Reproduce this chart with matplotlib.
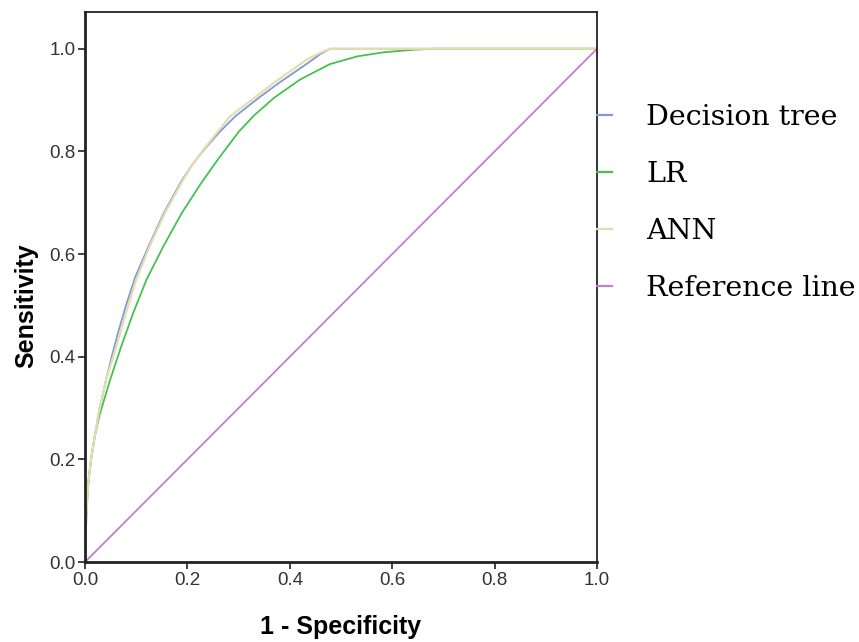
import matplotlib.pyplot as plt

# ROC points (1 - specificity, sensitivity)
tree_fpr = [0.0, 0.001, 0.0025, 0.0045, 0.007, 0.0117, 0.019, 0.0267, 0.041, 0.052, 0.064,
            0.08, 0.098, 0.124, 0.154, 0.187, 0.21, 0.234, 0.262, 0.293, 0.34, 0.381, 0.435,
            0.46, 0.479, 1.0]
tree_tpr = [0.0, 0.043, 0.088, 0.127, 0.16, 0.2, 0.245, 0.29, 0.355, 0.40, 0.445,
            0.50, 0.555, 0.615, 0.68, 0.74, 0.775, 0.805, 0.837, 0.868, 0.905, 0.935, 0.972,
            0.99, 1.0, 1.0]

lr_fpr = [0.0, 0.001, 0.0025, 0.0045, 0.007, 0.0117, 0.019, 0.028, 0.049, 0.07, 0.094,
          0.12, 0.153, 0.189, 0.228, 0.26, 0.3, 0.33, 0.37, 0.42, 0.478, 0.531, 0.582,
          0.64, 0.68, 1.0]
lr_tpr = [0.0, 0.043, 0.088, 0.127, 0.16, 0.2, 0.245, 0.285, 0.355, 0.418, 0.485,
          0.55, 0.615, 0.68, 0.74, 0.785, 0.838, 0.87, 0.905, 0.94, 0.97, 0.985, 0.993,
          0.998, 1.0, 1.0]

ann_fpr = [0.0, 0.001, 0.0025, 0.0045, 0.007, 0.0117, 0.019, 0.0267, 0.041, 0.055, 0.067,
           0.083, 0.1, 0.126, 0.156, 0.189, 0.208, 0.231, 0.283, 0.325, 0.368, 0.433, 0.459,
           0.479, 1.0]
ann_tpr = [0.0, 0.043, 0.088, 0.127, 0.16, 0.2, 0.245, 0.29, 0.355, 0.40, 0.44,
           0.495, 0.55, 0.615, 0.68, 0.74, 0.771, 0.803, 0.868, 0.90, 0.933, 0.979, 0.992,
           1.0, 1.0]

ref_x = [0.0, 1.0]
ref_y = [0.0, 1.0]

labels = ['Decision tree', 'LR', 'ANN', 'Reference line']
colors = ['#8098d8', '#45c152', '#e2deaf', '#c180cb']
ticks = [0.0, 0.2, 0.4, 0.6, 0.8, 1.0]
y_top = 1.072

fig = plt.figure(figsize=(8.59, 6.42), dpi=100)
ax = fig.add_axes([0.099, 0.1246, 0.596, 0.857])

ax.plot(tree_fpr, tree_tpr, color=colors[0], lw=1.3, label=labels[0])
ax.plot(lr_fpr, lr_tpr, color=colors[1], lw=1.3, label=labels[1])
ax.plot(ann_fpr, ann_tpr, color=colors[2], lw=1.6, label=labels[2])
ax.plot(ref_x, ref_y, color=colors[3], lw=1.3, label=labels[3])

ax.set_xlim(0, 1.0)
ax.set_ylim(0, y_top)
ax.set_xticks(ticks)
ax.set_yticks(ticks)
ax.set_xticklabels([f'{t:.1f}' for t in ticks], fontfamily='Liberation Sans', fontsize=13.5, color='#333333')
ax.set_yticklabels([f'{t:.1f}' for t in ticks], fontfamily='Liberation Sans', fontsize=13.5, color='#333333')
ax.tick_params(direction='out', length=5, width=1.2, color='#222222', pad=2)
for s in ax.spines.values():
    s.set_linewidth(1.3)
    s.set_color('#222222')
ax.spines['left'].set_linewidth(2)
ax.spines['bottom'].set_linewidth(2)

# axis titles sit at the middle of the 0..1 range, as in the original
ax.set_xlabel('1 - Specificity', fontfamily='Liberation Sans', fontweight='bold', fontsize=18, labelpad=19)
ax.set_ylabel('Sensitivity', fontfamily='Liberation Sans', fontweight='bold', fontsize=18, labelpad=8,
              y=0.5 / y_top)

leg = ax.legend(loc='center left', bbox_to_anchor=(1.0, 0.652), frameon=False,
                borderpad=0, borderaxespad=0, handlelength=0.53, handletextpad=1.2,
                labelspacing=1.05, prop={'family': 'DejaVu Serif', 'size': 20.5})
for h in leg.get_lines():
    h.set_linewidth(1.6)

fig.savefig('out.png', dpi=100)
